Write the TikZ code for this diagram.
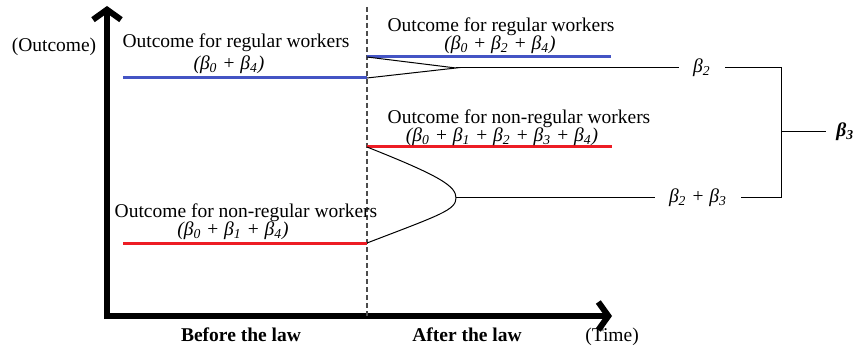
\documentclass[tikz,border=0pt]{standalone}
\usepackage{fontspec}
\setmainfont{Liberation Serif}
\usepackage{tikz}
\usetikzlibrary{arrows.meta}
\definecolor{regblue}{RGB}{68, 84, 196}
\definecolor{nonregred}{RGB}{237, 28, 36}
\newcommand{\bt}[1]{β\textsubscript{#1}}

\begin{document}
\begin{tikzpicture}[
    x=0.5pt, y=-0.5pt,
    font=\fontsize{9.75}{11}\selectfont,
    label/.style={inner sep=0pt},
    eq/.style={inner sep=0pt, font=\fontsize{9.75}{11}\selectfont\itshape},
    beta/.style={inner sep=7pt, font=\fontsize{9.75}{11}\selectfont\itshape},
    axis/.style={line width=3pt, -{Straight Barb[length=5pt, width=14pt]}},
    regline/.style={line width=1.5pt, color=regblue},
    nonregline/.style={line width=1.5pt, color=nonregred},
    lawline/.style={dashed, dash pattern=on 2.5pt off 1.5pt, line width=0.6pt, color=black!70},
    brace/.style={line width=0.5pt, color=black}
]
    \useasboundingbox (0,0) rectangle (855,347);

    % axes
    \coordinate (origin) at (107,316);
    \coordinate (ytop) at (107,6);
    \coordinate (xend) at (612,316);
    \draw[axis] (107,319) -- (ytop);
    \draw[axis] (104,316) -- (xend);
    \node[label] (outcome) at (54,47) {(Outcome)};
    \node[label] (time) at (612,337) {(Time)};
    \node[label, font=\fontsize{9.75}{11}\selectfont\bfseries] (before) at (241,335) {Before the law};
    \node[label, font=\fontsize{9.75}{11}\selectfont\bfseries] (after) at (467,335) {After the law};

    % the law
    \coordinate (lawtop) at (367,7);
    \coordinate (lawbot) at (367,316);
    \draw[lawline] (lawtop) -- (lawbot);

    % outcome levels
    \coordinate (regA) at (123,78);
    \coordinate (regB) at (367,78);
    \coordinate (regC) at (367,57);
    \coordinate (regD) at (611,57);
    \coordinate (nonA) at (123,243);
    \coordinate (nonB) at (367,243);
    \coordinate (nonC) at (367,147);
    \coordinate (nonD) at (612,147);
    \draw[regline] (regA) -- (regB);
    \draw[regline] (regC) -- (regD);
    \draw[nonregline] (nonA) -- (nonB);
    \draw[nonregline] (nonC) -- (nonD);

    \node[label] (regpre) at (236,43) {Outcome for regular workers};
    \node[eq] (regpreeq) at (229,65) {(\bt{0} + \bt{4})};
    \node[label] (regpost) at (501,27) {Outcome for regular workers};
    \node[eq] (regposteq) at (500,45) {(\bt{0} + \bt{2} + \bt{4})};
    \node[label] (nonpost) at (519,119) {Outcome for non-regular workers};
    \node[eq] (nonposteq) at (502,137) {(\bt{0} + \bt{1} + \bt{2} + \bt{3} + \bt{4})};
    \node[label] (nonpre) at (246,213) {Outcome for non-regular workers};
    \node[eq] (nonpreeq) at (233,231) {(\bt{0} + \bt{1} + \bt{4})};

    % differences
    \coordinate (tiptwo) at (456,68);
    \coordinate (tipsum) at (456,198);
    \node[beta] (bettwo) at (702,68) {\bt{2}};
    \node[beta] (betsum) at (698,198) {\bt{2} + \bt{3}};
    \coordinate (joinA) at (781,68);
    \coordinate (joinB) at (781,198);
    \coordinate (joinM) at (781,132);
    \node[anchor=west, inner sep=0pt, font=\fontsize{9.75}{11}\selectfont\bfseries\itshape] (betthree) at (836,132) {\bt{3}};

    \draw[brace] (regC) -- (tiptwo) -- (regB);
    \draw[brace] (tiptwo) -- (bettwo.west);
    \draw[brace] (nonC) .. controls (440,176) and (456,186) .. (tipsum);
    \draw[brace] (nonB) .. controls (440,215) and (456,210) .. (tipsum);
    \draw[brace] (tipsum) -- (betsum.west);
    \draw[brace] (bettwo.east) -- (joinA) -- (joinB) -- (betsum.east);
    \draw[brace] (joinM) -- ([xshift=-5]betthree.west);
\end{tikzpicture}
\end{document}
